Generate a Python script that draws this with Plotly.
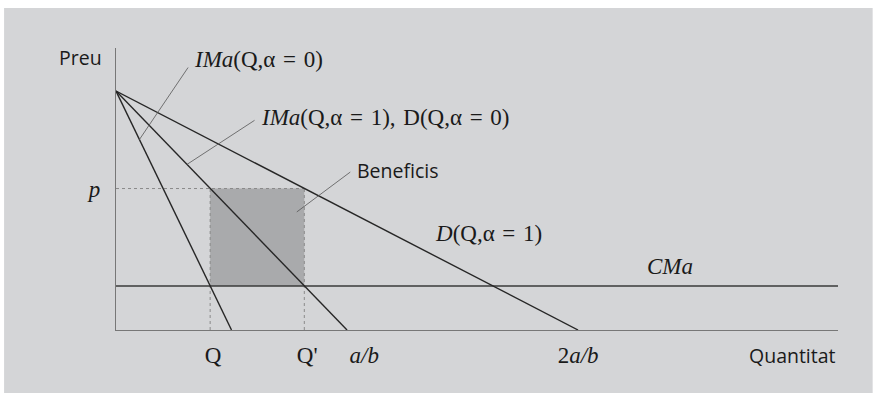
import plotly.graph_objects as go

# ---- data ----
price_intercept = 10.0                 # a (apex on price axis)
quantity_intercepts = [2.0, 4.0, 8.0]  # a/(2b), a/b, 2a/b
curve_names = ["IMa(Q,α=0)", "IMa(Q,α=1), D(Q,α=0)", "D(Q,α=1)"]
cma_level = 1.84
q_opt = 1.63       # Q
q_prime = 3.26     # Q'
p_level = 5.92     # p
x_tick_vals = [1.63, 3.26, 4.0, 8.0]
x_tick_text = ["&nbsp;Q", "&nbsp;Q'", "&nbsp;&nbsp;&nbsp;&nbsp;&nbsp;&nbsp;<i>a/b</i>", "2<i>a/b</i>"]
y_tick_vals = [5.92]
y_tick_text = ["<i>p</i>"]
x_max = 12.5
y_max = 11.8

SERIF = "Liberation Serif, Times New Roman, serif"
SANS = "Open Sans, Noto Sans, sans-serif"
BG = "#d4d5d7"
SP = "\u2004"  # slightly wider space as in the original typesetting

fig = go.Figure()

# profit rectangle
fig.add_trace(go.Scatter(
    x=[q_opt, q_prime, q_prime, q_opt, q_opt],
    y=[cma_level, cma_level, p_level, p_level, cma_level],
    mode="lines", fill="toself", fillcolor="#a9aaac",
    line=dict(width=0), hoverinfo="skip", showlegend=False))

# dotted guide lines
dot = dict(color="#8a8a8a", width=1, dash="dot")
fig.add_trace(go.Scatter(x=[0, q_prime], y=[p_level, p_level], mode="lines",
                         line=dot, showlegend=False, hoverinfo="skip"))
fig.add_trace(go.Scatter(x=[q_opt, q_opt], y=[0, p_level], mode="lines",
                         line=dot, showlegend=False, hoverinfo="skip"))
fig.add_trace(go.Scatter(x=[q_prime, q_prime], y=[0, p_level], mode="lines",
                         line=dot, showlegend=False, hoverinfo="skip"))

# CMa
fig.add_trace(go.Scatter(x=[0, x_max], y=[cma_level, cma_level], mode="lines",
                         line=dict(color="#3a3a3a", width=1.6),
                         name="CMa", showlegend=False))

# demand / marginal revenue lines
for qi, nm in zip(quantity_intercepts, curve_names):
    fig.add_trace(go.Scatter(x=[0, qi], y=[price_intercept, 0], mode="lines",
                             line=dict(color="#262626", width=1.4),
                             name=nm, showlegend=False))

# gray panel background
fig.add_shape(type="rect", xref="paper", yref="paper",
              x0=-0.155, x1=1.048, y0=-0.223, y1=1.142,
              fillcolor=BG, line=dict(width=0), layer="below")

lead = dict(showarrow=True, arrowhead=0, arrowwidth=0.8, arrowcolor="#555555",
            text="", standoff=0, startstandoff=0)
fig.add_annotation(x=0.40, y=7.95, ax=50, ay=-74, **lead)
fig.add_annotation(x=1.23, y=6.93, ax=69, ay=-45, **lead)
fig.add_annotation(x=3.13, y=4.94, ax=55, ay=-41, **lead)

def label(x, y, text, family, size, xanchor="left", ref="data"):
    kw = {}
    if ref == "paper":
        kw = dict(xref="paper", yref="paper")
    fig.add_annotation(x=x, y=y, text=text, showarrow=False, xanchor=xanchor,
                       yanchor="middle", font=dict(family=family, size=size, color="#1a1a1a"), **kw)

label(1.32, 11.30, f"<i>IMa</i>(Q,α{SP}={SP}0)", SERIF, 23)
label(2.48, 8.91, f"<i>IMa</i>(Q,α{SP}={SP}1),{SP}D(Q,α{SP}={SP}0)", SERIF, 23)
label(4.13, 6.69, "Beneficis", SANS, 19.5)
label(5.48, 4.02, f"<i>D</i>(Q,α{SP}={SP}1)", SERIF, 23)
label(9.16, 2.64, "<i>CMa</i>", SERIF, 23)
label(-0.082, 0.968, "Preu", SANS, 19.5, ref="paper")
label(1.0, -0.089, "Quantitat", SANS, 19.5, xanchor="right", ref="paper")

fig.update_xaxes(range=[0, x_max], showline=True, linecolor="#777777", linewidth=1.2,
                 showgrid=False, zeroline=False, tickvals=x_tick_vals, ticktext=x_tick_text,
                 ticks="", ticklabelstandoff=4, tickangle=0, automargin=False,
                 tickfont=dict(family=SERIF, size=23, color="#1a1a1a"))
fig.update_yaxes(range=[0, y_max], showline=True, linecolor="#777777", linewidth=1.2,
                 showgrid=False, zeroline=False, tickvals=y_tick_vals, ticktext=y_tick_text,
                 ticks="", ticklabelstandoff=10, tickangle=0, automargin=False,
                 tickfont=dict(family=SERIF, size=23, color="#1a1a1a"))

fig.update_layout(width=875, height=394, margin=dict(l=116, r=37, t=48, b=64),
                  paper_bgcolor="white", plot_bgcolor="rgba(0,0,0,0)",
                  showlegend=False)

fig.write_html("out.html", config={"displayModeBar": False},
               post_script="document.body.style.margin='0px';")
